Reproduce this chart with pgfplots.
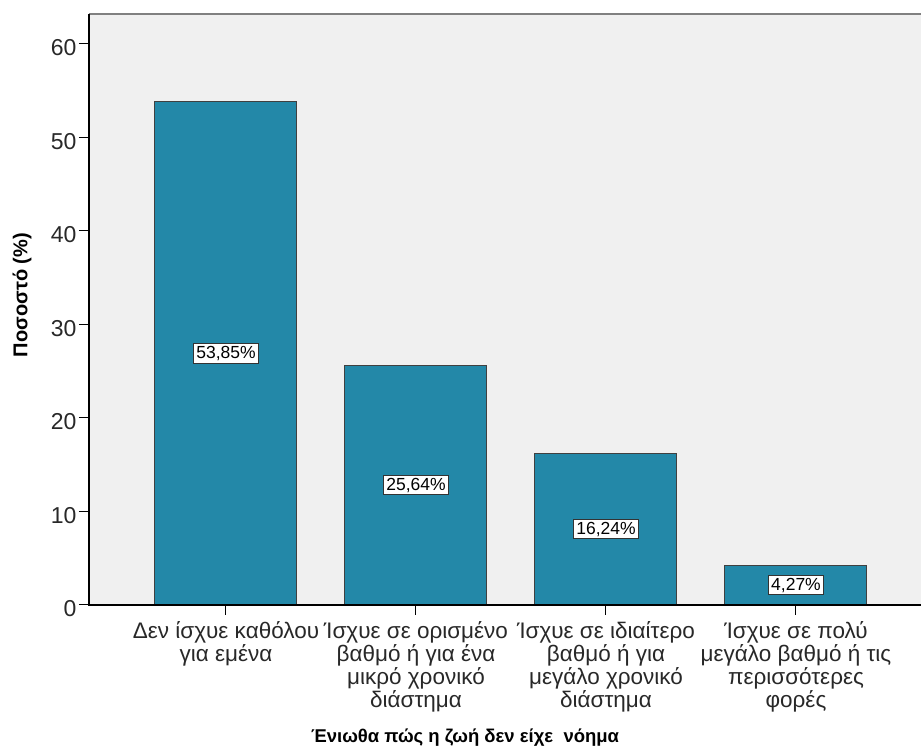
\documentclass[border=0pt]{standalone}
\usepackage{pgfplots}
\pgfplotsset{compat=1.18}
\usepackage{fontspec}
\setmainfont{Liberation Sans}
\definecolor{barc}{RGB}{35,136,168}
\definecolor{bgc}{RGB}{240,240,240}
\definecolor{txt}{RGB}{40,40,40}
\begin{document}
\begin{tikzpicture}[x=1pt,y=1pt]
\useasboundingbox (0,0) rectangle (921,749);
\begin{axis}[
  at={(89pt,144pt)}, anchor=south west,
  scale only axis, width=832pt, height=591pt,
  xmin=-0.721, xmax=3.658, ymin=0, ymax=63.2,
  axis background/.style={fill=bgc},
  axis line style={draw=none},
  ytick={0,10,20,30,40,50,60},
  xtick={0,1,2,3},
  xticklabels={{Δεν ίσχυε καθόλου\\για εμένα},
               {Ίσχυε σε ορισμένο\\βαθμό ή για ένα\\μικρό χρονικό\\διάστημα},
               {Ίσχυε σε ιδιαίτερο\\βαθμό ή για\\μεγάλο χρονικό\\διάστημα},
               {Ίσχυε σε πολύ\\μεγάλο βαθμό ή τις\\περισσότερες\\φορές}},
  tick align=outside,
  major tick length=10pt,
  tick style={black, line width=1pt},
  xtick pos=bottom, ytick pos=left,
  /pgf/number format/assume math mode=true,
  yticklabel style={font=\fontsize{23}{24}\selectfont, text=txt, xshift=1pt, yshift=-4pt},
  xticklabel style={font=\fontsize{22.5}{23}\selectfont, text=txt, align=center, yshift=-3pt},
  every axis y label/.style={at={(rel axis cs:-0.0805,0.5245)}, rotate=90, anchor=center},
  every axis x label/.style={at={(rel axis cs:0.452,-0.225)}, anchor=center},
  ylabel={\fontsize{20}{22}\selectfont\bfseries Ποσοστό (\%)},
  xlabel={\fontsize{18.5}{22}\selectfont\bfseries Ένιωθα πώς η ζωή δεν είχε\ \ νόημα},
  clip=false,
]
\addplot[ybar, bar width=142pt, fill=barc, draw=black!75, line width=1pt]
  coordinates {(0,53.85) (1,25.64) (2,16.24) (3,4.27)};
\addplot[only marks, mark=none, point meta=explicit symbolic,
  nodes near coords,
  every node near coord/.style={anchor=center, fill=white, draw=black!80, line width=0.8pt,
     inner sep=2.5pt, font=\fontsize{17.5}{19}\selectfont, text=black}]
  table[meta=label, row sep=\\] {
  x y label\\
  0 26.925 53,85\%\\
  1 12.82 25,64\%\\
  2 8.12 16,24\%\\
  3 2.135 4,27\%\\
  };
\draw[black!50, line width=2.5pt] (rel axis cs:0,1) -- (rel axis cs:1,1);
\draw[black, line width=1.2pt] (rel axis cs:0,1) -- (rel axis cs:0,0) -- (rel axis cs:1,0);
\end{axis}
\end{tikzpicture}
\end{document}
